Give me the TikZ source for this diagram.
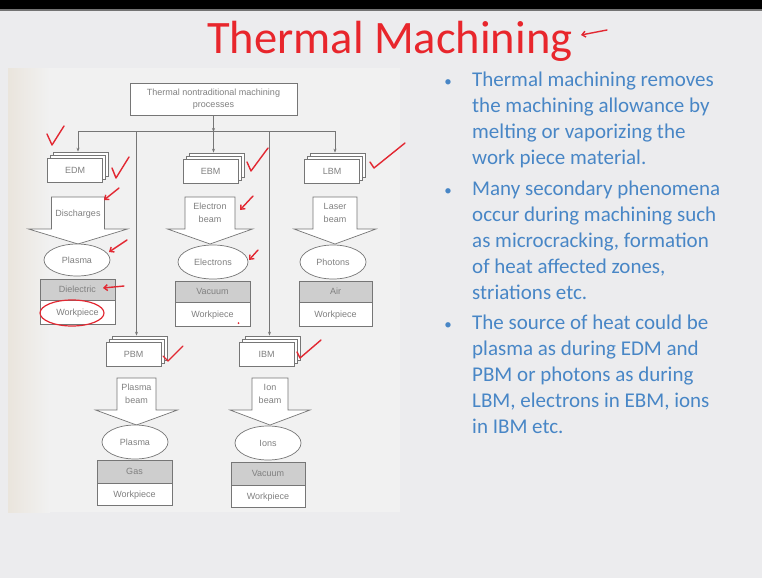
\documentclass[tikz,border=0pt]{standalone}
\usepackage{fontspec}
\setmainfont{Carlito}
\newfontfamily\diagfont{Liberation Sans}
\usetikzlibrary{shapes.geometric,shadows,arrows.meta}

\definecolor{slidebg}{RGB}{236,236,238}
\definecolor{pagebg}{RGB}{241,241,241}
\definecolor{pageedge}{RGB}{234,229,221}
\definecolor{inkgray}{RGB}{118,118,118}
\definecolor{labelgray}{RGB}{128,128,128}
\definecolor{mediumgray}{RGB}{206,206,206}
\definecolor{titlered}{RGB}{232,38,44}
\definecolor{bodyblue}{RGB}{72,134,198}
\definecolor{penred}{RGB}{226,40,50}

% block arrow: centre x, top y, shaft half width, shaft bottom, head half width, tip y
\newcommand\blockarrow[6]{%
  \draw[ink,fill=white] ({#1-#3},#2) -- ({#1+#3},#2) -- ({#1+#3},#4) -- ({#1+#5},#4)
    -- (#1,#6) -- ({#1-#5},#4) -- ({#1-#3},#4) -- cycle;}

\tikzset{
  ink/.style={draw=inkgray,line width=0.7pt},
  lbl/.style={font=\diagfont\fontsize{9}{12.5}\selectfont,text=labelgray,align=center},
  tipdown/.style={-{Stealth[length=4pt,width=3pt]}},
  stackbox/.style={ink,lbl,fill=white,minimum width=55pt,minimum height=24pt,inner sep=0pt,
    double copy shadow={shadow xshift=3pt,shadow yshift=3pt,draw=inkgray,fill=white,line width=0.7pt}},
  medium/.style={ink,lbl,fill=mediumgray,minimum width=75pt,minimum height=21pt,inner sep=0pt},
  piece/.style={ink,lbl,fill=white,minimum width=75pt,minimum height=24pt,inner sep=0pt},
  oval/.style={ink,lbl,ellipse,fill=white,minimum width=66pt,minimum height=32pt,inner sep=0pt},
  % multi-line paragraphs are placed by the baseline of their last line
  bodytext/.style={font=\fontsize{21}{26}\selectfont,text=bodyblue,align=left,inner sep=0pt,anchor=base west},
  bulletmark/.style={font=\fontsize{15}{18}\selectfont,text=bodyblue,inner sep=0pt,anchor=base},
  pen/.style={draw=penred,line width=1.4pt,line cap=round,line join=round},
  penarrow/.style={pen,-{Straight Barb[length=3.5pt,width=6pt]}},
}

\begin{document}
\begin{tikzpicture}[x=1pt,y=-1pt]
\useasboundingbox (0,0) rectangle (762,578);
% slide background and top band
\fill[slidebg] (0,0) rectangle (762,578);
\fill[black] (0,0) rectangle (762,9);
\fill[black!55] (0,9) rectangle (762,11.5);
% scanned page
\fill[pagebg] (8,68) rectangle (400,512);
\shade[left color=pageedge,right color=pagebg] (8,68) rectangle (50,512);

% title
\node[font=\fontsize{46.5}{54}\selectfont,text=titlered,anchor=base west,inner sep=0pt]
  (title) at (207,53) {Thermal Machining};

% bullet list
\node[bulletmark] (b1) at (448,86) {\textbullet};
\node[bodytext] (p1) at (472,164) {Thermal machining removes\\the machining allowance by\\melting or vaporizing the\\work piece material.};
\node[bulletmark] (b2) at (448,195) {\textbullet};
\node[bodytext] (p2) at (472,299) {Many secondary phenomena\\occur during machining such\\as microcracking, formation\\of heat affected zones,\\striations etc.};
\node[bulletmark] (b3) at (448,329) {\textbullet};
\node[bodytext] (p3) at (472,433) {The source of heat could be\\plasma as during EDM and\\PBM or photons as during\\LBM, electrons in EBM, ions\\in IBM etc.};

% ---- classification tree ----
\node[ink,lbl,fill=white,minimum width=167pt,minimum height=32pt,inner sep=0pt]
  (top) at (213.5,99) {Thermal nontraditional machining\\processes};

\coordinate (busL) at (78,131);
\coordinate (busPL) at (136.5,131);
\coordinate (busC) at (213.5,131);
\coordinate (busPR) at (269.5,131);
\coordinate (busR) at (335,131);

\node[stackbox] (edm) at (75,170) {EDM};
\node[stackbox] (ebm) at (210.5,171) {EBM};
\node[stackbox] (lbm) at (332,171) {LBM};
\node[stackbox] (pbm) at (133.5,354) {PBM};
\node[stackbox] (ibm) at (266.5,354) {IBM};

\draw[ink] (busL) -- (busR);
\draw[ink,tipdown] (top.south) -- ([yshift=-1pt]busC);
\draw[ink,tipdown,shorten >=6pt] (busC) -- (busC |- ebm.north);
\draw[ink,tipdown,shorten >=6pt] (busL) -- (busL |- edm.north);
\draw[ink,tipdown,shorten >=6pt] (busR) -- (busR |- lbm.north);
\draw[ink,tipdown,shorten >=6pt] (busPL) -- (busPL |- pbm.north);
\draw[ink,tipdown,shorten >=6pt] (busPR) -- (busPR |- ibm.north);

% energy carriers
\blockarrow{78}{197}{26.5}{229}{49.5}{244}
\node[lbl] (dis) at (78,214) {Discharges};
\blockarrow{210}{197}{25}{229}{42.5}{244}
\node[lbl] (eb) at (210,213) {Electron\\beam};
\blockarrow{335}{197}{22}{229}{41}{244}
\node[lbl] (lb) at (335,213) {Laser\\beam};
\blockarrow{136.5}{378}{19.5}{410}{41}{425}
\node[lbl] (pb) at (136.5,394) {Plasma\\beam};
\blockarrow{270}{378}{18}{410}{40}{425}
\node[lbl] (ib) at (270,394) {Ion\\beam};

% tools
\node[oval] (plasmaA) at (77,260) {Plasma};
\node[oval,minimum width=70pt,minimum height=34pt] (electrons) at (213,262) {Electrons};
\node[oval,minimum height=34pt] (photons) at (333,262) {Photons};
\node[oval,minimum height=34pt] (plasmaB) at (135,442) {Plasma};
\node[oval,minimum height=34pt] (ions) at (268,443) {Ions};

% media and workpieces
\node[medium] (dielectric) at (77.5,289.5) {Dielectric};
\node[piece,anchor=north] (wpA) at (dielectric.south) {Workpiece};
\node[medium] (vacA) at (212.5,291.5) {Vacuum};
\node[piece,anchor=north] (wpB) at (vacA.south) {Workpiece};
\node[medium,minimum width=73pt] (air) at (335.5,291.5) {Air};
\node[piece,minimum width=73pt,anchor=north] (wpC) at (air.south) {Workpiece};
\node[medium,minimum height=23pt] (gas) at (134.5,471.5) {Gas};
\node[piece,minimum height=22pt,anchor=north] (wpD) at (gas.south) {Workpiece};
\node[medium,minimum height=23pt,minimum width=74pt] (vacB) at (268,473.5) {Vacuum};
\node[piece,minimum height=22pt,minimum width=74pt,anchor=north] (wpE) at (vacB.south) {Workpiece};

% ---- red pen marks ----
\draw[penarrow] (607,30) -- (581,35);
\draw[pen] (47,134) -- (52,145) -- (64,126);
\draw[pen] (112,168) -- (116,178) -- (129,157);
\draw[pen] (247,162) -- (251,171) -- (268,148);
\draw[pen] (370,162) -- (374,168) -- (405,143);
\draw[pen] (163,356) -- (168,361) -- (183,346);
\draw[pen] (297,352) -- (300,358) -- (321,340);
\draw[penarrow] (119,188) -- (104,200);
\draw[penarrow] (253,196) -- (240,210);
\draw[penarrow] (127,240) -- (109,252);
\draw[penarrow] (258,250) -- (249,260);
\draw[penarrow] (124,286) -- (103,288);
\draw[pen,line width=1.2pt] (72,313) ellipse [x radius=32, y radius=13];
\fill[penred] (238.5,323) circle (1pt);
\end{tikzpicture}
\end{document}
